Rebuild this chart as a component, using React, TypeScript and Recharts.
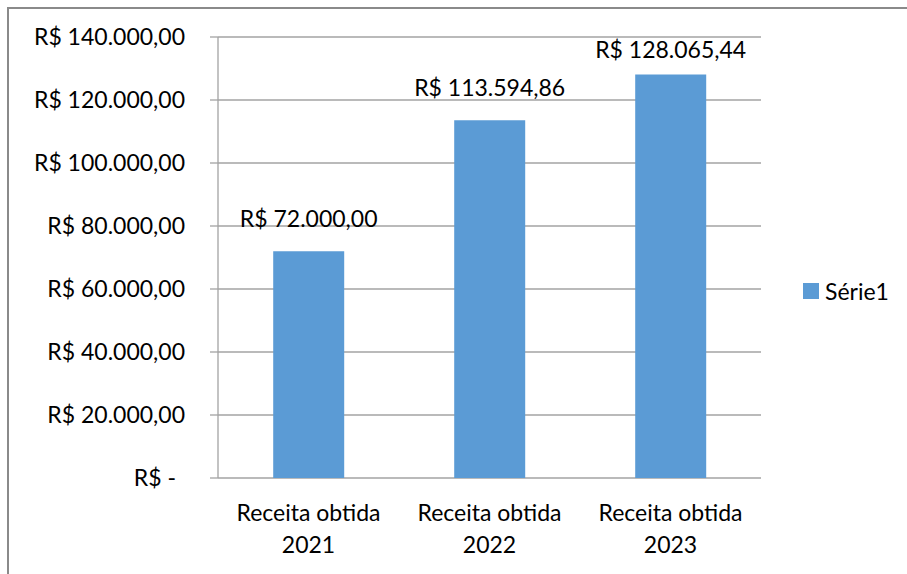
import React from 'react';
import { BarChart, Bar, XAxis, YAxis, CartesianGrid, Legend, LabelList } from 'recharts';

const categories = ['Receita obtida 2021', 'Receita obtida 2022', 'Receita obtida 2023'];
const serie1 = [72000, 113594.86, 128065.44];
const yTicks = [0, 20000, 40000, 60000, 80000, 100000, 120000, 140000];
const edgeTicks = [0, 1, 2, 3];

const data = categories.map((name, i) => ({ name, pos: i + 0.5, 'Série1': serie1[i] }));

const FONT = 'Lato, "Open Sans", sans-serif';
const FS = 23;
const GRID = '#a3a3a3';
const BAR = '#5b9bd5';

// R$ 1.234,56 – accounting style, zero shown as a dash
const brl = (v: number) => {
  if (v === 0) return 'R$ -';
  const [int, dec] = v.toFixed(2).split('.');
  return `R$ ${int.replace(/\B(?=(\d{3})+(?!\d))/g, '.')},${dec}`;
};

const YTick = ({ x, y, payload }: any) => (
  <text x={payload.value === 0 ? x - 9 : x} y={y} dy={8} textAnchor="end" fontFamily={FONT} fontSize={FS} fill="#000">
    {brl(payload.value)}
  </text>
);

const XTick = ({ x, y, payload }: any) => {
  const s: string = payload.value;
  const cut = s.lastIndexOf(' ');
  return (
    <text x={x} y={y} textAnchor="middle" fontFamily={FONT} fontSize={FS} fill="#000">
      <tspan x={x} dy={43}>{s.slice(0, cut)}</tspan>
      <tspan x={x} dy={32}>{s.slice(cut + 1)}</tspan>
    </text>
  );
};

const ValueLabel = ({ x, y, width, value }: any) => (
  <text x={x + width / 2} y={Math.max(y - 24, 58)} textAnchor="middle" fontFamily={FONT} fontSize={FS} fill="#000">
    {brl(value)}
  </text>
);

const LegendBox = ({ payload }: any) => (
  <div style={{ fontFamily: FONT, fontSize: FS, color: '#000' }}>
    {(payload || []).map((p: any) => (
      <div key={p.value} style={{ display: 'flex', alignItems: 'center' }}>
        <span style={{ width: 16, height: 16, background: BAR, display: 'inline-block', marginRight: 6 }} />
        {p.value}
      </div>
    ))}
  </div>
);

export default function App() {
  return (
    <div style={{ position: 'relative', width: 907, height: 574, background: '#fff' }}>
      <style>{`body{margin:0;overflow:hidden;}`}</style>
      <div style={{ position: 'absolute', left: 7, top: 7, width: 900, height: 567, borderTop: '2px solid #8a8a8a', borderLeft: '2px solid #8a8a8a' }} />
      <div style={{ position: 'absolute', left: 0, top: 0 }}>
        <BarChart width={907} height={574} data={data} margin={{ top: 37, right: 146, left: 0, bottom: 0 }} barCategoryGap="30.5%">
          <CartesianGrid horizontal vertical={false} stroke={GRID} strokeWidth={1.3} />
          <XAxis
            xAxisId="edge"
            type="number"
            dataKey="pos"
            domain={[0, 3]}
            ticks={edgeTicks}
            tick={false}
            height={0}
            tickSize={8}
            stroke={GRID}
            strokeWidth={1.3}
            allowDataOverflow
          />
          <XAxis
            dataKey="name"
            height={96}
            axisLine={false}
            tickLine={false}
            tickSize={0}
            tickMargin={0}
            tick={<XTick />}
            interval={0}
          />
          <YAxis
            width={218}
            domain={[0, 140000]}
            ticks={yTicks}
            tickSize={8}
            tickMargin={25}
            stroke={GRID}
            strokeWidth={1.3}
            tick={<YTick />}
            interval={0}
          />
          <Legend
            layout="horizontal"
            verticalAlign="middle"
            align="center"
            content={<LegendBox />}
            wrapperStyle={{ position: 'absolute', left: 803, top: 277, width: 100 }}
          />
          <Bar dataKey="Série1" fill={BAR} isAnimationActive={false}>
            <LabelList dataKey="Série1" content={<ValueLabel />} />
          </Bar>
        </BarChart>
      </div>
    </div>
  );
}
